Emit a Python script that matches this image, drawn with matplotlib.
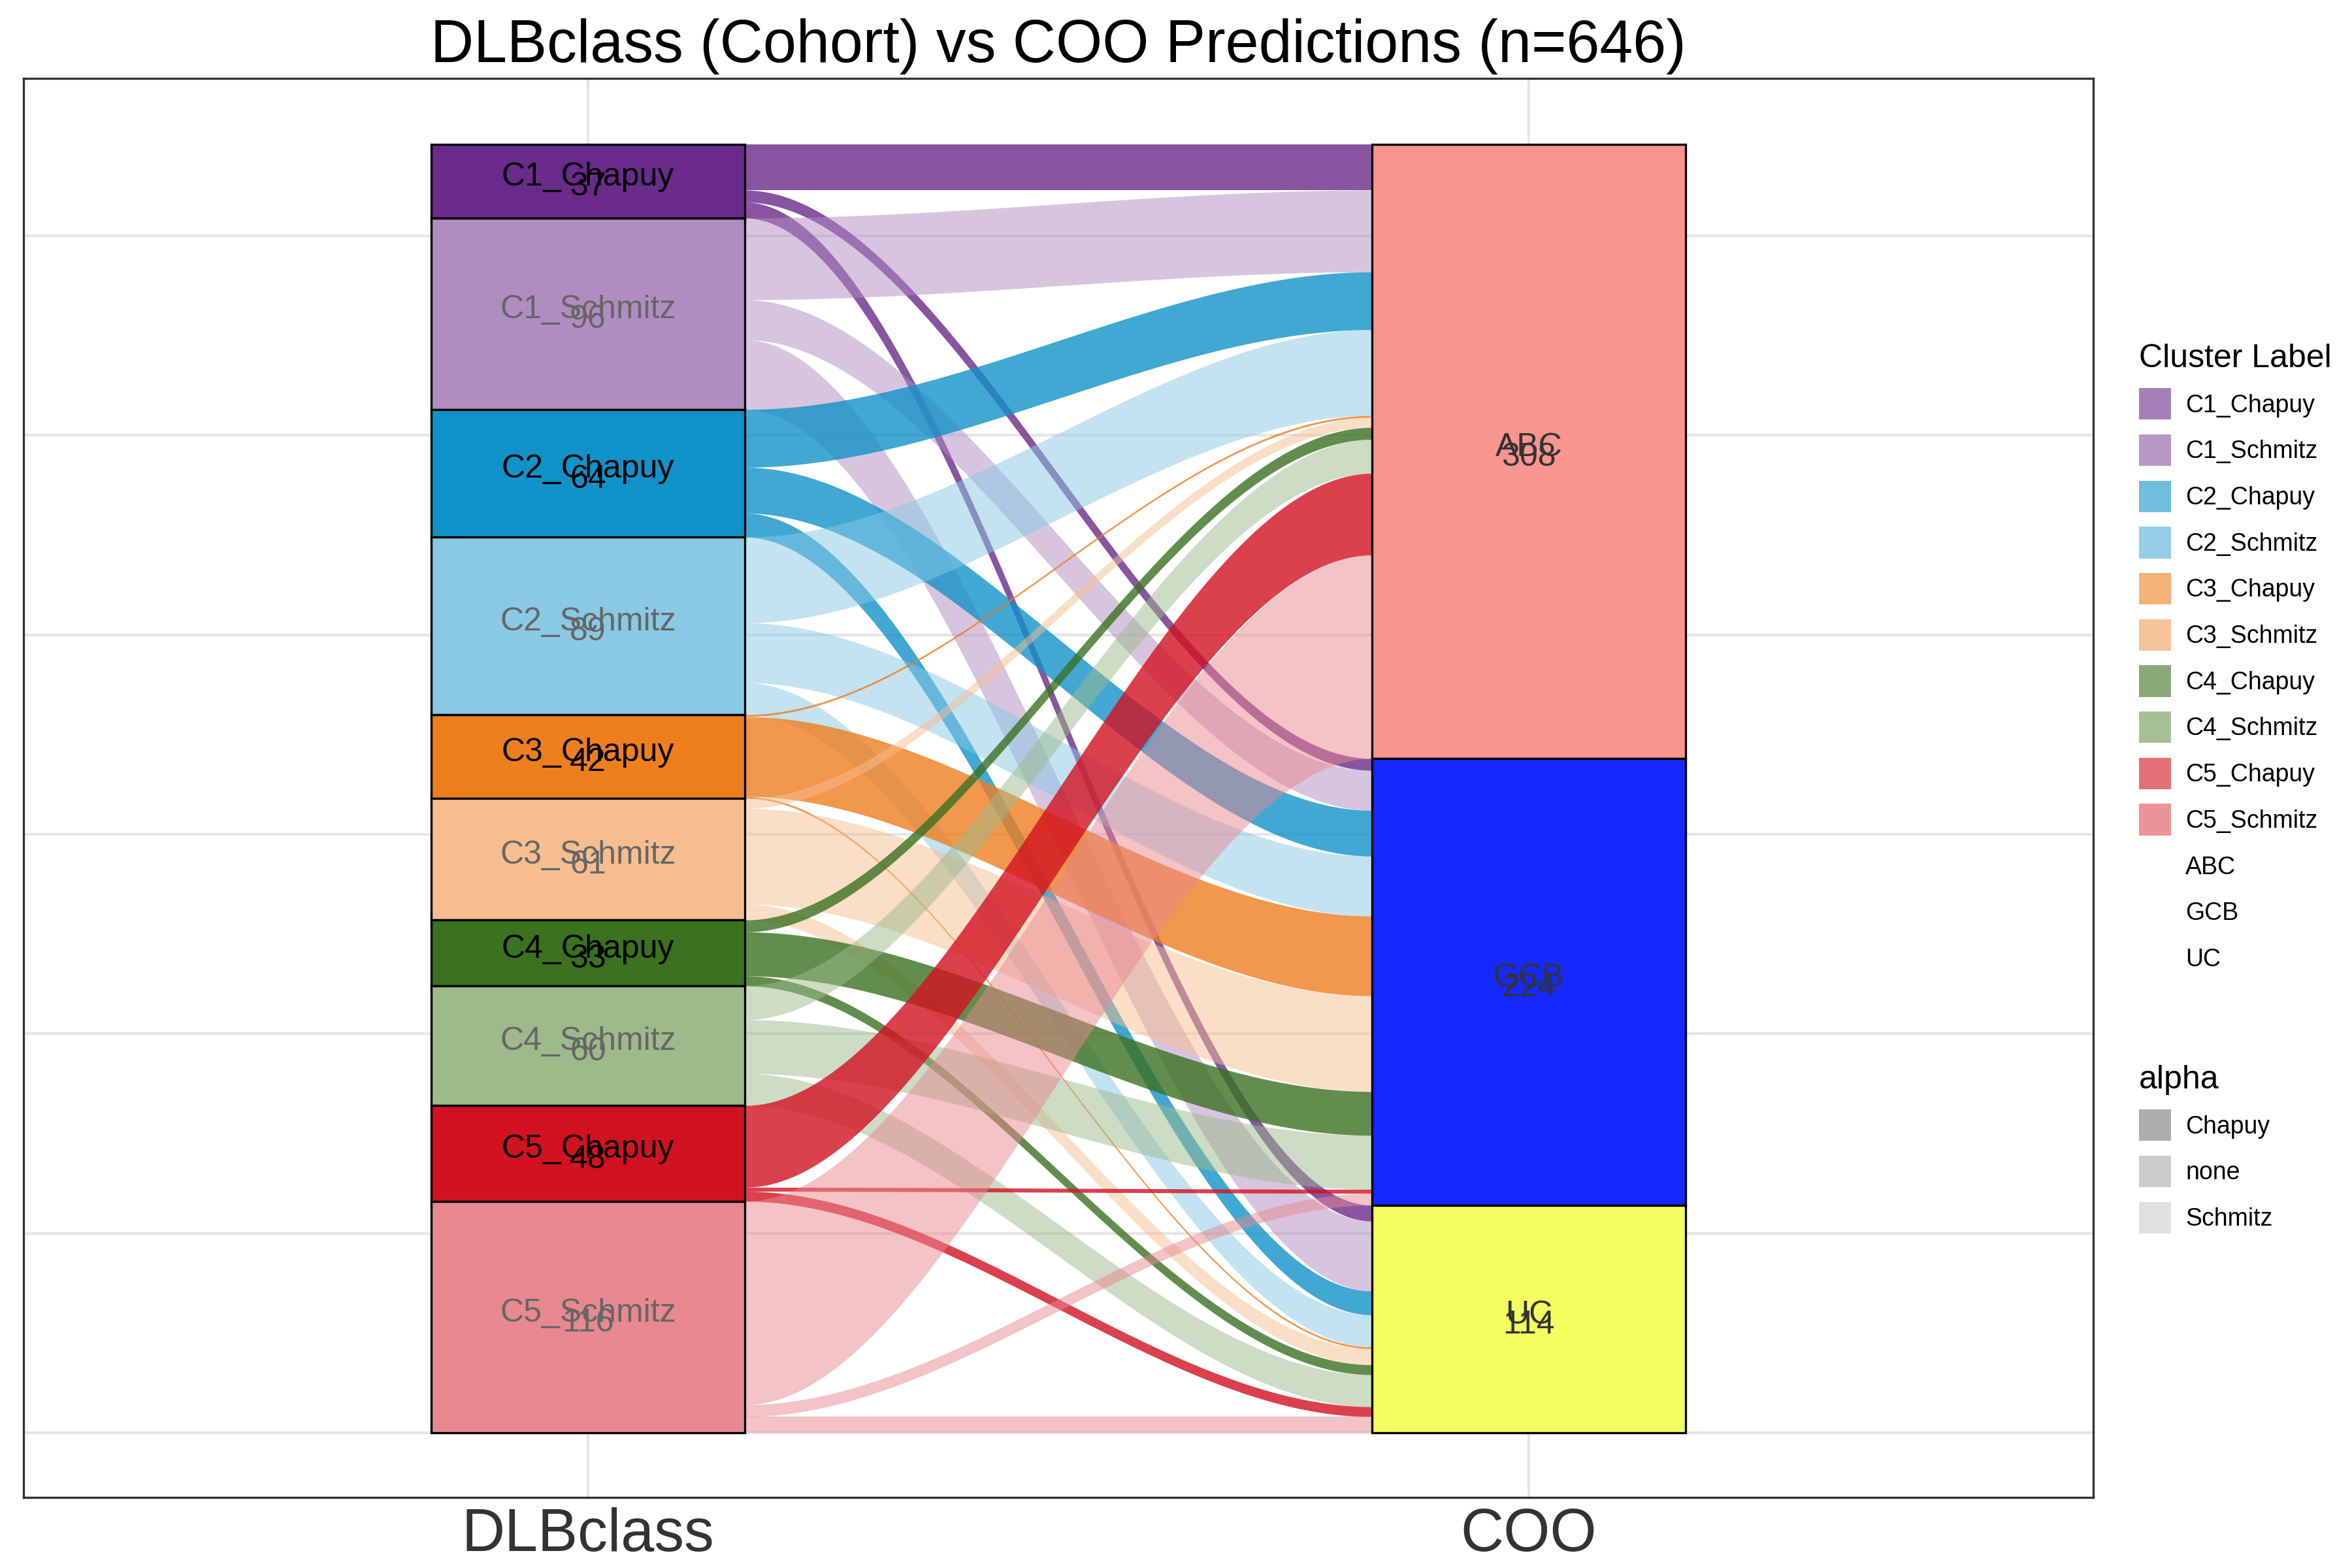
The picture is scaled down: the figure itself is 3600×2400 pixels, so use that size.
import matplotlib.pyplot as plt
import numpy as np
from matplotlib.patches import Rectangle, Patch

plt.rcParams['font.family'] = ['Liberation Sans', 'DejaVu Sans']

clusters = ['C1_Chapuy', 'C1_Schmitz', 'C2_Chapuy', 'C2_Schmitz', 'C3_Chapuy',
            'C3_Schmitz', 'C4_Chapuy', 'C4_Schmitz', 'C5_Chapuy', 'C5_Schmitz']
coo = ['ABC', 'GCB', 'UC']
# counts per cluster: [ABC, GCB, UC]
abc = [23, 41, 29, 43, 1, 5, 6, 17, 41, 102]
gcb = [6, 20, 23, 30, 40, 48, 22, 27, 2, 6]
uc = [8, 35, 12, 16, 1, 8, 5, 16, 5, 8]
cluster_colors = ['#6A2B8A', '#B08DC1', '#1192C8', '#89C9E4', '#EE7F1F',
                  '#F6BE8F', '#3B7220', '#9DBA8B', '#D31220', '#E8888F']
coo_colors = ['#F8958E', '#1428FF', '#F2FF5F']

counts = np.array([abc, gcb, uc]).T
left_tot = counts.sum(axis=1)
right_tot = counts.sum(axis=0)
total = counts.sum()
w = 1 / 3

fig, ax = plt.subplots(figsize=(12, 8), dpi=300)
fig.subplots_adjust(left=0.01, right=0.89, top=0.95, bottom=0.045)

def alpha_of(name):
    return 0.8 if 'Chapuy' in name else 0.5

# flows
x0, x1 = 1 + w / 2, 2 - w / 2
t = np.linspace(0, 1, 100)
s = t * t * (3 - 2 * t)
xs = x0 + (x1 - x0) * t
right_start = [total - right_tot[:j].sum() for j in range(3)]
left_top = [total - left_tot[:i].sum() for i in range(len(clusters))]
rtops = []
for j in range(3):
    top = right_start[j]
    col = []
    for i in range(len(clusters)):
        col.append(top)
        top -= counts[i, j]
    rtops.append(col)
for i, name in enumerate(clusters):
    ltop = left_top[i]
    for j in range(3):
        v = counts[i, j]
        rt = rtops[j][i]
        ytop = ltop + (rt - ltop) * s
        ax.fill_between(xs, ytop - v, ytop, color=cluster_colors[i],
                        alpha=alpha_of(name), lw=0)
        ltop -= v

# strata
for i, name in enumerate(clusters):
    top = left_top[i]
    ax.add_patch(Rectangle((1 - w / 2, top - left_tot[i]), w, left_tot[i],
                           facecolor=cluster_colors[i], edgecolor='black', lw=0.8))
    tc = 'black' if 'Chapuy' in name else '#666666'
    mid = top - left_tot[i] / 2
    ax.text(1, mid + 2, name, ha='center', va='center', fontsize=12, color=tc)
    ax.text(1, mid - 3, str(left_tot[i]), ha='center', va='center', fontsize=12, color=tc)
for j, name in enumerate(coo):
    top = right_start[j]
    ax.add_patch(Rectangle((2 - w / 2, top - right_tot[j]), w, right_tot[j],
                           facecolor=coo_colors[j], edgecolor='black', lw=0.8))
    mid = top - right_tot[j] / 2
    ax.text(2, mid + 2, name, ha='center', va='center', fontsize=12, color='#333333')
    ax.text(2, mid - 3, str(right_tot[j]), ha='center', va='center', fontsize=12, color='#333333')

ax.set_xlim(0.4, 2.6)
ax.set_ylim(-32.5, 679)
ax.set_xticks([1, 2])
ax.set_xticklabels(['DLBclass', 'COO'], fontsize=22, color='#333333')
ax.set_yticks(np.arange(0, 700, 100))
ax.set_yticklabels([])
ax.tick_params(length=0)
ax.grid(True, which='major', color='#E5E5E5', lw=1)
ax.set_axisbelow(True)
for sp in ax.spines.values():
    sp.set_color('#333333')
    sp.set_linewidth(0.8)
ax.set_title('DLBclass (Cohort) vs COO Predictions (n=646)', fontsize=22)

handles = [Patch(facecolor=cluster_colors[i], alpha=0.6 if 'Chapuy' in clusters[i] else 0.9)
           for i in range(len(clusters))]
handles += [Patch(facecolor='none', edgecolor='none') for _ in coo]
fig.legend(handles, clusters + coo, title='Cluster Label', loc='upper left',
           bbox_to_anchor=(0.9, 0.795), frameon=False, fontsize=9,
           title_fontsize=12, handlelength=1.3, handleheight=1.6,
           alignment='left', labelspacing=0.6, handletextpad=0.6)
h2 = [Patch(facecolor='#999999', alpha=a) for a in (0.8, 0.5, 0.3)]
fig.legend(h2, ['Chapuy', 'none', 'Schmitz'], title='alpha', loc='upper left',
           bbox_to_anchor=(0.9, 0.335), frameon=False, fontsize=9,
           title_fontsize=12, handlelength=1.3, handleheight=1.6,
           alignment='left', labelspacing=0.6, handletextpad=0.6)

fig.savefig('out.png', dpi=300)
